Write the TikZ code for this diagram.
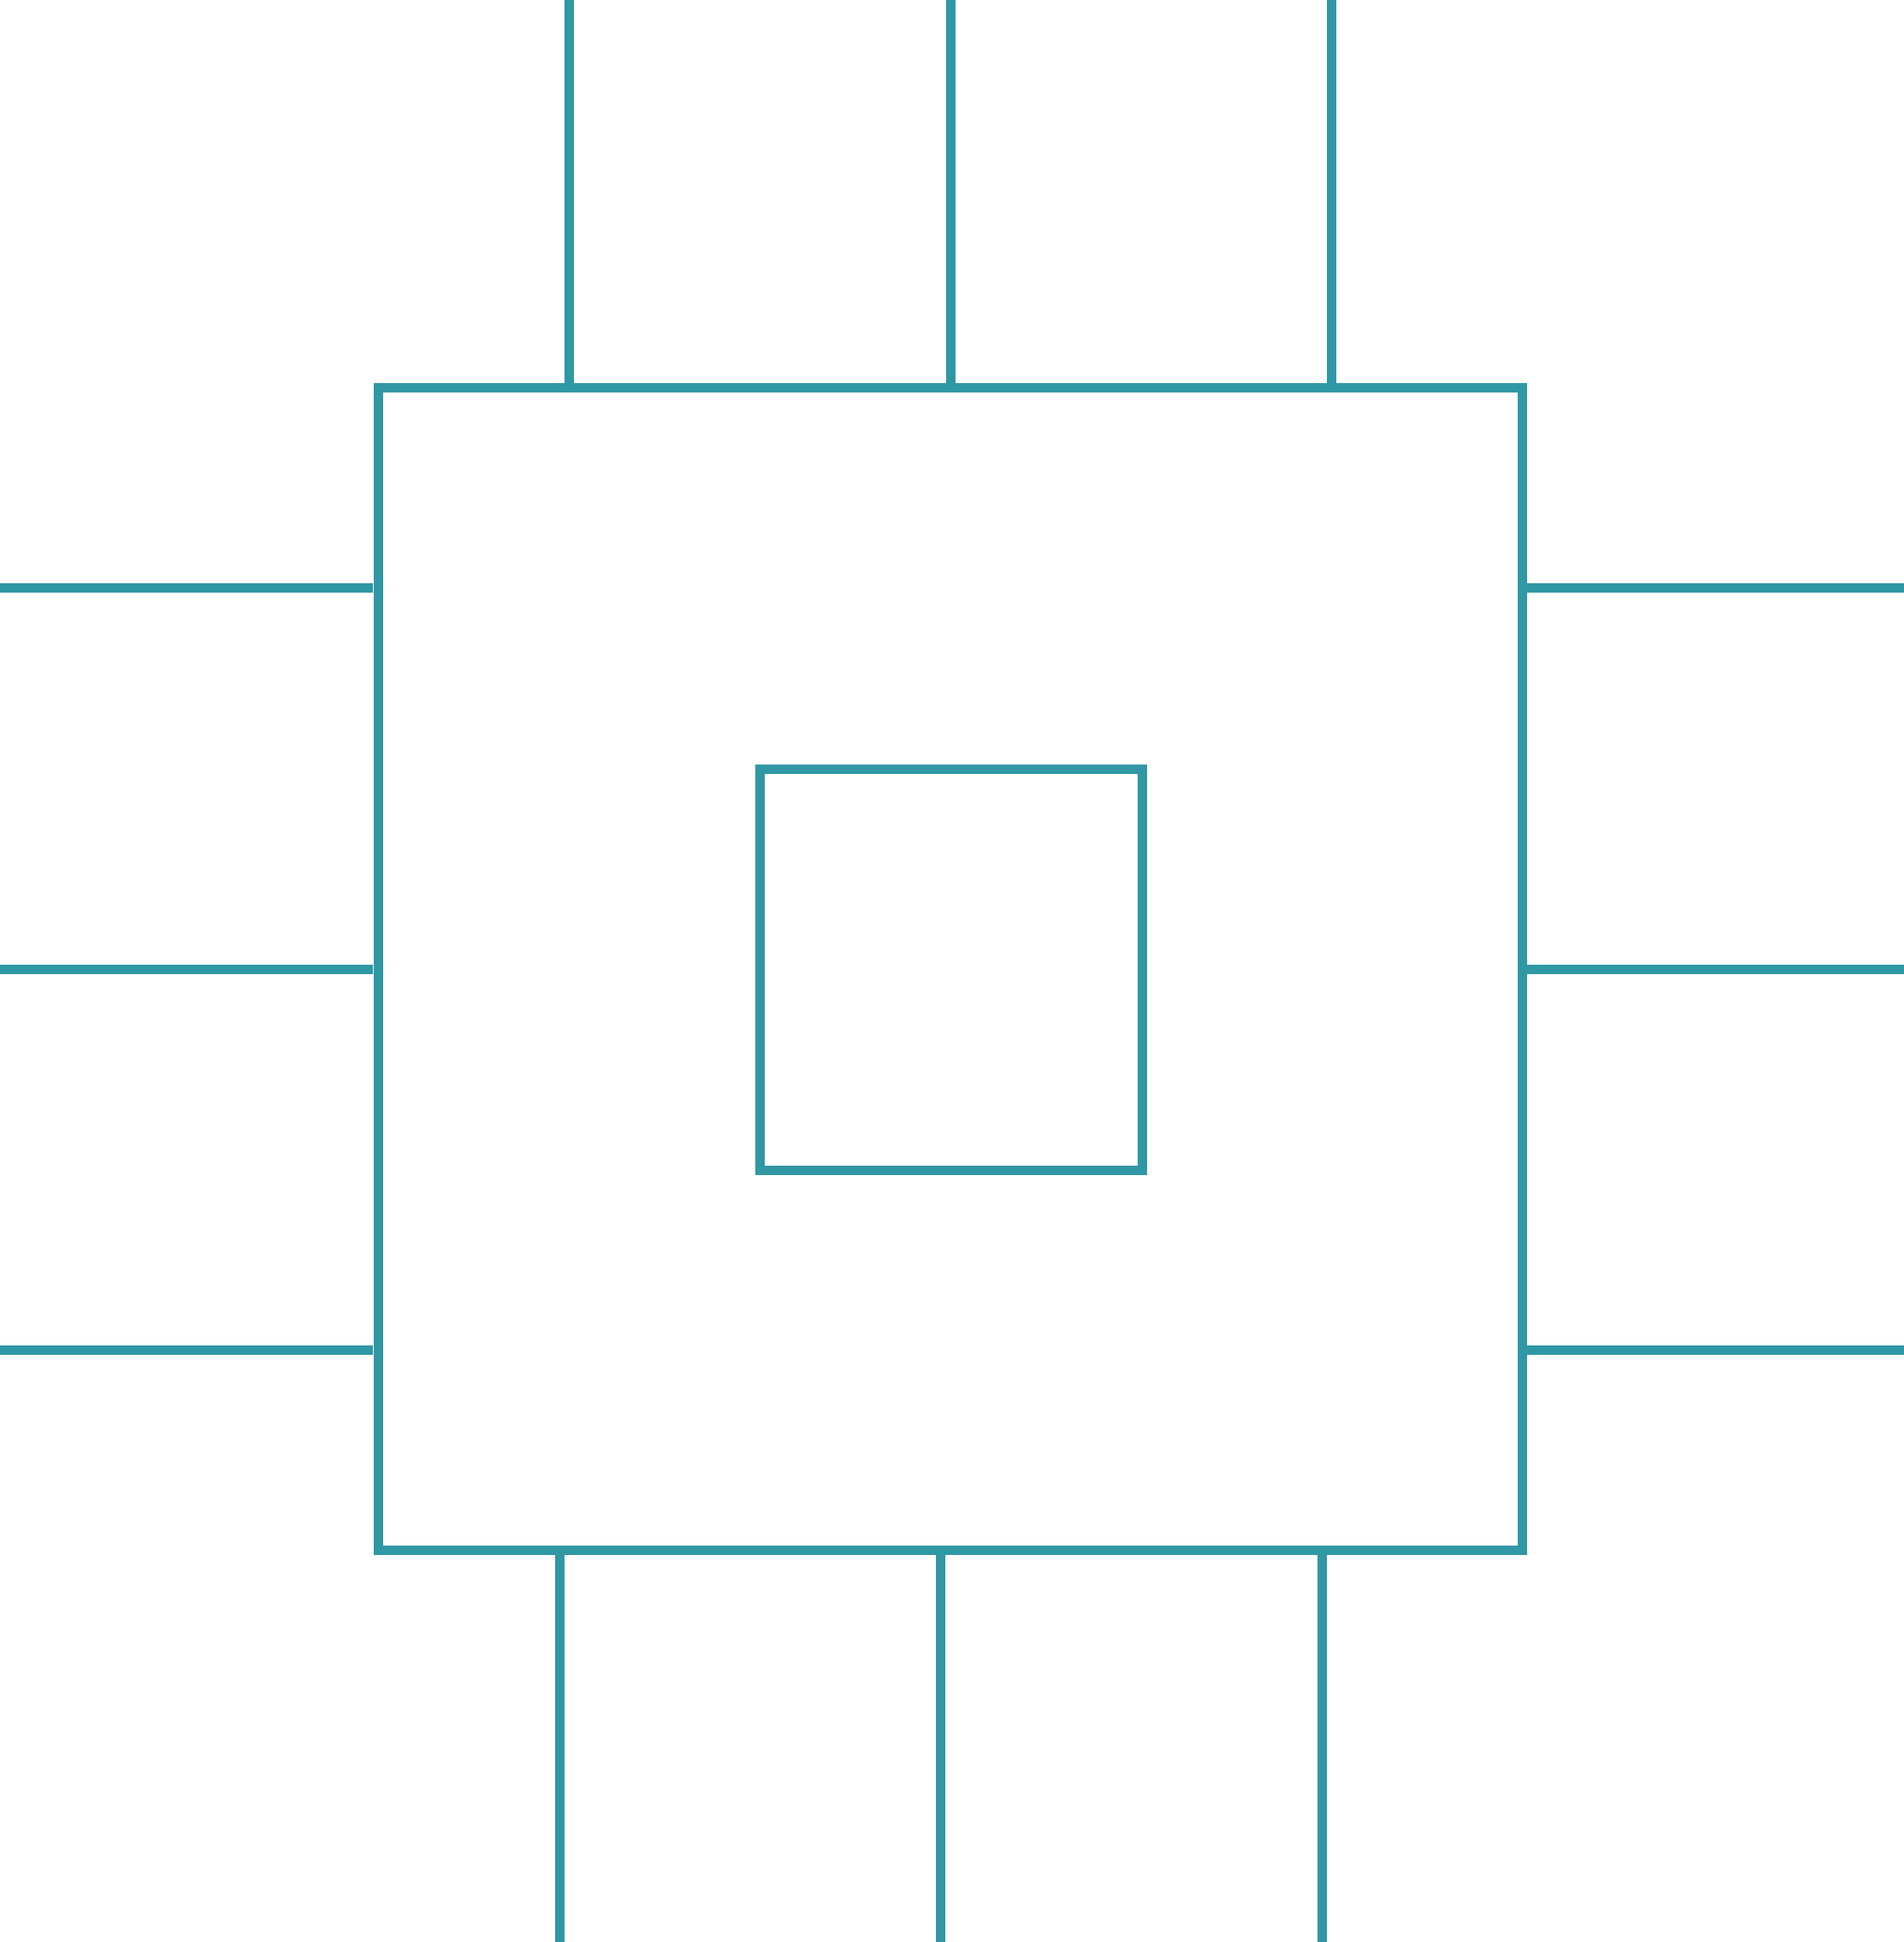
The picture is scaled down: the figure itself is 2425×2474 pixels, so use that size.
\documentclass[tikz,border=0pt]{standalone}
\usetikzlibrary{positioning}

\definecolor{chipteal}{HTML}{3097A4}

\tikzset{
    chipline/.style={draw=chipteal, line width=3.55pt},
    coreline/.style={draw=chipteal, line width=3.6pt},
    pinline/.style={draw=chipteal, line width=3.6pt},
}

\begin{document}
\begin{tikzpicture}[x=0.01cm, y=-0.01cm]

    % frame of the whole picture
    \useasboundingbox (0,0) rectangle (2425,2474);

    % --- Chip body ---
    \coordinate (bodyNW) at (482,494);
    \coordinate (bodySE) at (1939,1975);
    \draw[chipline] (bodyNW) rectangle (bodySE);

    % --- Core in the middle ---
    \coordinate (coreNW) at (968,980);
    \coordinate (coreSE) at (1455,1491);
    \draw[coreline] (coreNW) rectangle (coreSE);

    % --- Pins on top, running down to the body ---
    \coordinate (t1) at (725,0);
    \coordinate (t2) at (1211,0);
    \coordinate (t3) at (1696,0);
    \draw[pinline] (t1) -- (t1 |- bodyNW);
    \draw[pinline] (t2) -- (t2 |- bodyNW);
    \draw[pinline] (t3) -- (t3 |- bodyNW);

    % --- Pins at the bottom, shifted a little to the left ---
    \coordinate (b1) at (713,2474);
    \coordinate (b2) at (1198,2474);
    \coordinate (b3) at (1684,2474);
    \draw[pinline] (b1 |- bodySE) -- (b1);
    \draw[pinline] (b2 |- bodySE) -- (b2);
    \draw[pinline] (b3 |- bodySE) -- (b3);

    % --- Pins on the left, they stop just short of the body ---
    \coordinate (lstop) at (475,0);
    \coordinate (l1) at (0,749);
    \coordinate (l2) at (0,1235);
    \coordinate (l3) at (0,1720);
    \draw[pinline] (l1) -- (l1 -| lstop);
    \draw[pinline] (l2) -- (l2 -| lstop);
    \draw[pinline] (l3) -- (l3 -| lstop);

    % --- Pins on the right ---
    \coordinate (r1) at (2425,749);
    \coordinate (r2) at (2425,1235);
    \coordinate (r3) at (2425,1720);
    \draw[pinline] (r1 -| bodySE) -- (r1);
    \draw[pinline] (r2 -| bodySE) -- (r2);
    \draw[pinline] (r3 -| bodySE) -- (r3);

\end{tikzpicture}
\end{document}
